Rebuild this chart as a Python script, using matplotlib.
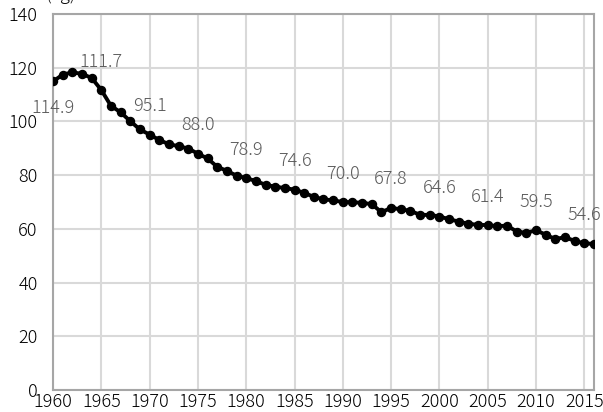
import matplotlib
matplotlib.use("Agg")
import matplotlib.pyplot as plt

# ── data ────────────────────────────────────────────────────
years = list(range(1960, 2017))
rice_kg = [
    114.9, 117.4, 118.3, 117.7, 116.2, 111.7, 105.8, 103.4, 100.1, 97.0,
    95.1, 93.1, 91.5, 90.8, 89.9, 88.0, 86.2, 83.1, 81.6, 79.8,
    78.9, 77.8, 76.4, 75.7, 75.2, 74.6, 73.4, 71.9, 71.0, 70.6,
    70.0, 69.9, 69.7, 69.2, 66.2, 67.8, 67.3, 66.7, 65.2, 65.2,
    64.6, 63.6, 62.7, 61.9, 61.5, 61.4, 61.0, 61.2, 59.0, 58.5,
    59.5, 57.8, 56.2, 56.9, 55.5, 54.6, 54.4,
]
label_years = [1960, 1965, 1970, 1975, 1980, 1985, 1990, 1995, 2000, 2005, 2010, 2015]
x_ticks = list(range(1960, 2016, 5))
y_ticks = list(range(0, 141, 20))

plt.rcParams["font.family"] = ["Noto Sans CJK JP", "DejaVu Sans"]
plt.rcParams["font.weight"] = "light"

# ── figure ──────────────────────────────────────────────────
fig = plt.figure(figsize=(6.03, 4.12), dpi=100)
ax = fig.add_axes([53 / 603, 22 / 412, 541 / 603, 376 / 412])

ax.plot(years, rice_kg, color="black", lw=2.8, marker="o", ms=5.8, zorder=3)

# value labels
for yr in label_years:
    v = rice_kg[years.index(yr)]
    dy = -19.5 if yr == 1960 else 20.5
    ax.annotate(f"{v:.1f}", (yr, v), xytext=(0, dy), textcoords="offset points",
                ha="center", va="center", fontsize=13, color="#595959", zorder=4)

ax.set_xlim(1960, 2016)
ax.set_ylim(0, 140)
ax.set_xticks(x_ticks)
ax.set_yticks(y_ticks)
ax.tick_params(length=0, labelsize=13, colors="black")
ax.tick_params(axis="x", pad=2)
ax.tick_params(axis="y", pad=11)

ax.grid(True, color="#d9d9d9", lw=1.5, zorder=0)
ax.set_axisbelow(True)
for side in ["left", "bottom", "right", "top"]:
    ax.spines[side].set_color("#a6a6a6")
    ax.spines[side].set_linewidth(1.5)

# unit label, cut off at top like the original
fig.text(45 / 603, 1.014, "(kg)", ha="left", va="center", fontsize=13)

fig.savefig("out.png", dpi=100)
